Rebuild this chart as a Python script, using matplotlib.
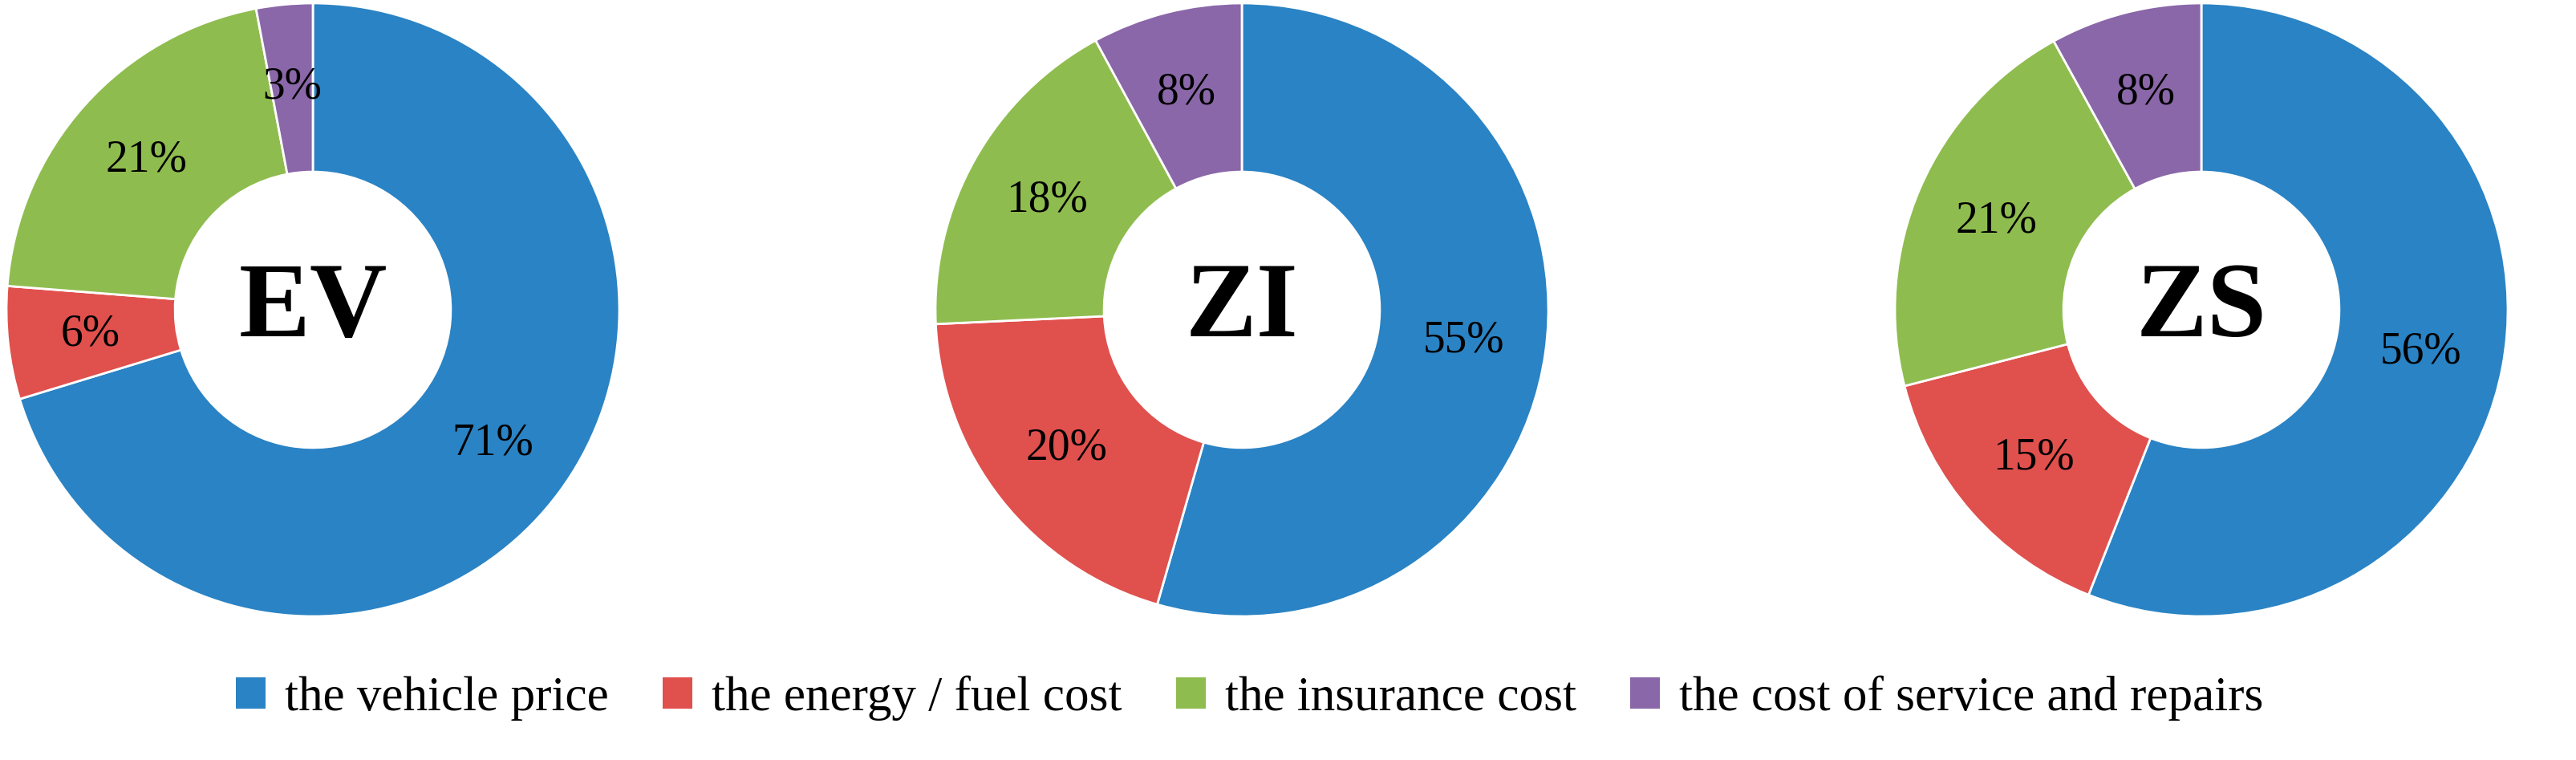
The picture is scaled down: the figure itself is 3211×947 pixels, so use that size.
import matplotlib
matplotlib.use("Agg")
import matplotlib.pyplot as plt
from matplotlib.patches import Patch

categories = ["the vehicle price", "the energy / fuel cost", "the insurance cost", "the cost of service and repairs"]
names = ["EV", "ZI", "ZS"]
ev = [71, 6, 21, 3]
zi = [55, 20, 18, 8]
zs = [56, 15, 21, 8]
series = [ev, zi, zs]
colors = ["#2a83c4", "#e0504d", "#8fbc4f", "#8a67a8"]

plt.rcParams['font.family'] = ['Liberation Serif', 'DejaVu Serif']
W, H = 3212, 947
fig = plt.figure(figsize=(W/100, H/100), dpi=100)
centers = [390, 1548, 2744]
R = 382
cy = 386
for cx, vals, name in zip(centers, series, names):
    ax = fig.add_axes([(cx-R)/W, (H-cy-R)/H, 2*R/W, 2*R/H])
    wedges, _ = ax.pie(vals, colors=colors, startangle=90, counterclock=False, radius=1,
                       wedgeprops=dict(width=0.55, edgecolor='white', linewidth=2))
    import numpy as np
    for w, v in zip(wedges, vals):
        ang = np.deg2rad((w.theta1 + w.theta2) / 2)
        ax.text(0.73*np.cos(ang), 0.73*np.sin(ang), f"{v}%", ha='center', va='center',
                fontsize=40)
    ax.text(0, 0, name, ha='center', va='center', fontsize=96, fontweight='bold')
    ax.set_xlim(-1, 1); ax.set_ylim(-1, 1)
    ax.set_aspect('equal')
    ax.axis('off')

handles = [Patch(facecolor=c, edgecolor='none') for c in colors]
fig.legend(handles, categories, loc='center', bbox_to_anchor=(0.485, 1-870/H), ncol=4,
           frameon=False, fontsize=44, handlelength=0.6, handleheight=0.6,
           columnspacing=1.1, handletextpad=0.4)
fig.savefig("out.png", dpi=100)
